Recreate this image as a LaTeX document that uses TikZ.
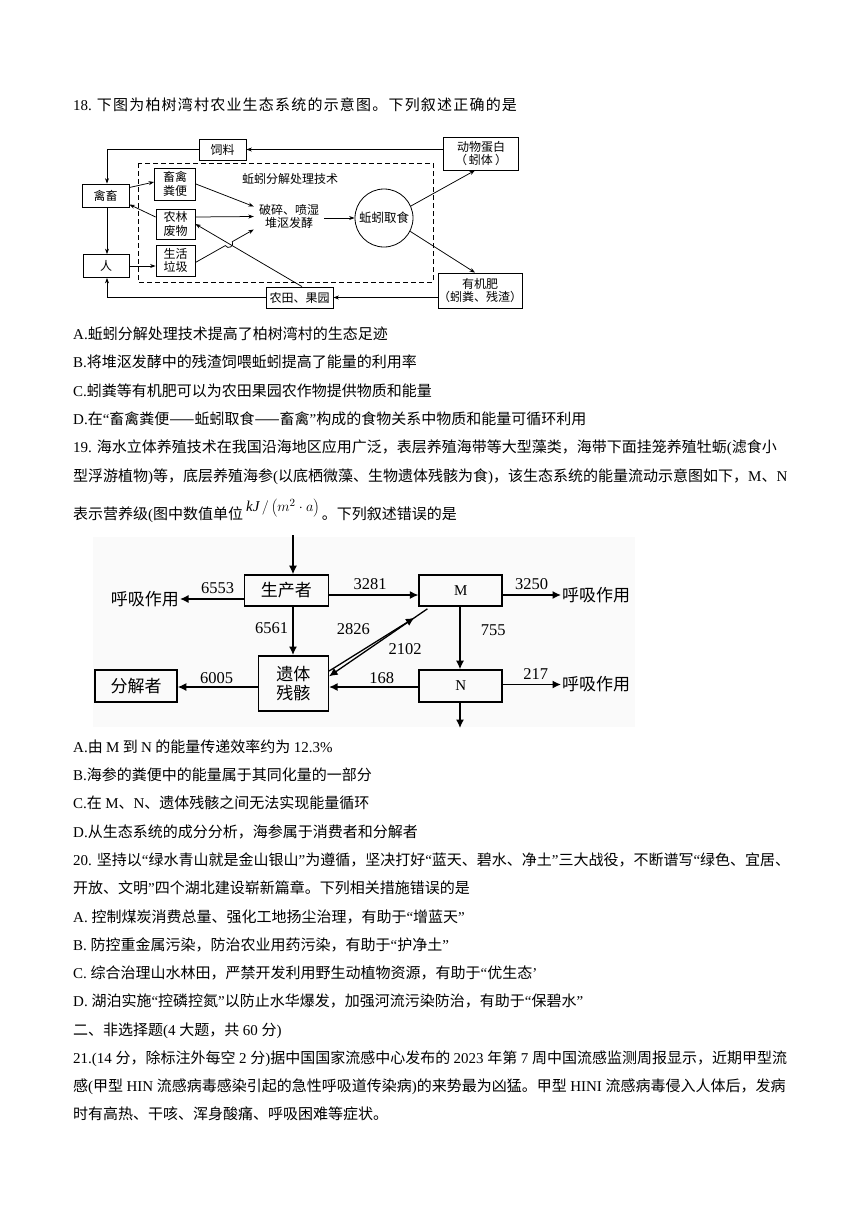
\documentclass[tikz,border=0pt]{standalone}
\usepackage{fontspec}
\setmainfont{Liberation Serif}
\newfontfamily\cjk{Noto Sans CJK SC}
\usetikzlibrary{arrows.meta,calc}
\newcommand\tm[1]{{\rmfamily #1}}

\begin{document}
\begin{tikzpicture}[x=1pt,y=-1pt,
  txt/.style={anchor=base west,inner sep=0pt,font=\cjk\fontsize{15}{18}\selectfont},
  boxa/.style={draw,line width=0.8pt,inner sep=0pt,align=center,font=\cjk\fontsize{12}{13.5}\selectfont},
  boxb/.style={draw,line width=1.6pt,inner sep=0pt,align=center,font=\cjk\fontsize{17}{19.5}\selectfont},
  lbla/.style={inner sep=0pt,align=center,font=\cjk\fontsize{12}{13.5}\selectfont},
  lblb/.style={inner sep=1pt,font=\cjk\fontsize{17}{20}\selectfont},
  num/.style={inner sep=0pt,font=\rmfamily\fontsize{16.5}{16.5}\selectfont},
  arra/.style={-{Stealth[length=5.5pt,width=4pt]},line width=0.75pt},
  arrb/.style={-{Latex[length=8.5pt,width=8pt]},line width=1.3pt}]
\useasboundingbox[fill=white] (0,0) rectangle (860,1216);

% question 18
\node[txt,font=\cjk\fontsize{15}{18}\selectfont\addfontfeature{LetterSpace=8}] (q18) at (73,110.5) {\tm{18. }下图为柏树湾村农业生态系统的示意图。下列叙述正确的是};

% agricultural ecosystem
\node[boxa,minimum width=47pt,minimum height=21pt] (sl) at (222.5,149.5) {饲料};
\node[boxa,minimum width=75pt,minimum height=33pt] (dw) at (481,153.5) {动物蛋白\\（\,蚓体\,）};
\draw[line width=0.8pt,dash pattern=on 5pt off 3pt] (138,163) rectangle (433,282);
\node[lbla] (jsl) at (290,179) {蚯蚓分解处理技术};
\node[boxa,minimum width=47pt,minimum height=23pt] (qc) at (105.5,195.5) {禽畜};
\node[boxa,minimum width=41pt,minimum height=32pt] (fb) at (175,184) {畜禽\\粪便};
\node[boxa,minimum width=39pt,minimum height=30pt] (nl) at (175.5,224) {农林\\废物};
\node[boxa,minimum width=39pt,minimum height=31pt] (lj) at (175.5,260.5) {生活\\垃圾};
\node[boxa,minimum width=46pt,minimum height=23pt] (ren) at (106,266) {人};
\node[lbla,inner sep=5pt] (ps) at (289,216.5) {破碎、喷湿\\堆沤发酵};
\node[boxa,circle,minimum size=58pt,font=\cjk\fontsize{12.5}{14}\selectfont] (qs) at (384,218) {蚯蚓取食};
\node[boxa,minimum width=81pt,minimum height=35pt] (yj) at (480,290.5) {有机肥\\（蚓粪、残渣）};
\node[boxa,minimum width=67pt,minimum height=21pt] (nt) at (299.5,297.5) {农田、果园};

\draw[arra] (dw.west|-sl.east) -- (sl.east);
\draw[arra] (sl.west) -| ([xshift=1.5pt]qc.north);
\draw[arra] ([xshift=1.5pt]qc.south) -- ([xshift=1pt]ren.north);
\draw[arra] ([yshift=8pt]qc.east) -- ([yshift=2pt]fb.west);
\draw[arra] ([yshift=7pt]nl.west) -- ([yshift=-9pt]qc.east);
\draw[arra] (ren.east) -- (lj.west|-ren.east);
\draw[arra] (fb.east) -- ([yshift=10pt]ps.west);
\draw[arra] ([yshift=7pt]nl.east) -- (ps.west);
\coordinate (ns) at ([xshift=2.5pt]nt.north);
\draw[arra] (ns) -- (nl.east);
% hop over the line from the fields
\coordinate (hs) at ([yshift=-2pt]lj.east);
\coordinate (he) at ([yshift=-13pt]ps.west);
\coordinate (hx) at (intersection of hs--he and ns--nl.east);
\coordinate (ha) at ($(hx)!4pt!(hs)$);
\coordinate (hb) at ($(hx)!4pt!(he)$);
\coordinate (hc) at ($(ha)!5pt!-90:(hx)$);
\coordinate (hd) at ($(hb)!5pt!90:(hx)$);
\draw[arra] (hs) -- (ha) .. controls (hc) and (hd) .. (hb) -- (he);
\draw[arra] (ps.east|-qs.west) -- (qs.west);
\draw[arra] (qs.24) -- ([xshift=-6pt]dw.south);
\draw[arra] (qs.-27) -- ([xshift=-5pt]yj.north);
\draw[arra] (yj.west|-nt.east) -- (nt.east);
\draw[arra] (nt.west) -| ([xshift=1pt]ren.south);

\node[txt] (q18a) at (73,339.5) {\tm{A.}蚯蚓分解处理技术提高了柏树湾村的生态足迹};
\node[txt] (q18b) at (73,367.5) {\tm{B.}将堆沤发酵中的残渣饲喂蚯蚓提高了能量的利用率};
\node[txt] (q18c) at (73,396.5) {\tm{C.}蚓粪等有机肥可以为农田果园农作物提供物质和能量};
\node[txt] (q18d) at (73,424.5) {\tm{D.}在\tm{“}畜禽粪便——蚯蚓取食——畜禽\tm{”}构成的食物关系中物质和能量可循环利用};

% question 19
\node[txt] (q19) at (73,452.5) {\tm{19. }海水立体养殖技术在我国沿海地区应用广泛，表层养殖海带等大型藻类，海带下面挂笼养殖牡蛎\tm{(}滤食小};
\node[txt] (q19l2) at (73,481.5) {型浮游植物\tm{)}等，底层养殖海参\tm{(}以底栖微藻、生物遗体残骸为食\tm{)}，该生态系统的能量流动示意图如下，\tm{M}、\tm{N}};
\node[txt] (q19l3) at (73,519.5) {表示营养级\tm{(}图中数值单位};
\node[anchor=west,inner sep=0pt,font=\fontsize{15}{18}\selectfont] (unit) at (246,508) {$\mathit{kJ}\,/\left(m^{2}\cdot a\right)$};
\node[txt] (q19l4) at ([xshift=2pt]unit.east|-q19l3.base) {。下列叙述错误的是};

% energy flow
\fill[gray!4] (93,537) rectangle (635,727);
\coordinate (src) at (293,535);
\node[boxb,minimum width=84pt,minimum height=31pt] (scz) at (286.3,590.5) {生产者};
\node[boxb,minimum width=83pt,minimum height=31pt,font=\rmfamily\fontsize{15}{15}\selectfont] (mm) at (460.7,590.5) {M};
\node[boxb,minimum width=82pt,minimum height=32pt] (fjz) at (136,686) {分解者};
\node[boxb,minimum width=70pt,minimum height=55pt] (yt) at (293.3,683.3) {遗体\\残骸};
\node[boxb,minimum width=83pt,minimum height=32pt,font=\rmfamily\fontsize{15}{15}\selectfont] (nn) at (460.7,686) {N};
\node[lblb,anchor=east] (hxa) at (180,599) {呼吸作用};
\node[lblb,anchor=west] (hxb) at (561,595) {呼吸作用};
\node[lblb,anchor=west] (hxc) at (561,684.5) {呼吸作用};
\coordinate (sink) at (460,728);

\draw[arrb] (src) -- (src|-scz.north);
\draw[arrb] (scz.west|-hxa.east) -- (hxa.east);
\draw[arrb] (scz.east|-hxb.west) -- (mm.west|-hxb.west);
\draw[arrb] (mm.east|-hxb.west) -- (hxb.west);
\draw[arrb] (src|-scz.south) -- (src|-yt.north);
\draw[arrb] ([yshift=-16pt]yt.north east) -- ([xshift=-4pt,yshift=-11pt]mm.south west);
\draw[arrb] ([xshift=9pt,yshift=-2pt]mm.south west) -- ([yshift=7pt]yt.south east|-yt.east);
\draw[arrb] (sink|-mm.south) -- (sink|-nn.north);
\draw[arrb] ([yshift=-1pt]nn.west) -- (yt.east|-0,687);
\draw[arrb] (yt.west|-0,687) -- (fjz.east|-0,687);
\draw[arrb] (nn.east|-hxc.west) -- (hxc.west);
\draw[arrb] (sink|-nn.south) -- (sink);

\node[num] (n6553) at (217.7,588.3) {6553};
\node[num] (n3281) at (370,584.3) {3281};
\node[num] (n3250) at (531.7,584.3) {3250};
\node[num] (n6561) at (271.7,627.7) {6561};
\node[num] (n2826) at (353.3,629) {2826};
\node[num] (n2102) at (405,649) {2102};
\node[num] (n755) at (493.3,630) {755};
\node[num] (n6005) at (216.7,677.7) {6005};
\node[num] (n168) at (381.7,677.7) {168};
\node[num] (n217) at (535.7,674.3) {217};

\node[txt] (q19a) at (73,752.5) {\tm{A.}由 \tm{M} 到 \tm{N} 的能量传递效率约为 \tm{12.3\%}};
\node[txt] (q19b) at (73,780.5) {\tm{B.}海参的粪便中的能量属于其同化量的一部分};
\node[txt] (q19c) at (73,808.5) {\tm{C.}在 \tm{M}、\tm{N}、遗体残骸之间无法实现能量循环};
\node[txt] (q19d) at (73,837.5) {\tm{D.}从生态系统的成分分析，海参属于消费者和分解者};

% question 20
\node[txt] (q20) at (73,865.5) {\tm{20. }坚持以\tm{“}绿水青山就是金山银山\tm{”}为遵循，坚决打好\tm{“}蓝天、碧水、净土\tm{”}三大战役，不断谱写\tm{“}绿色、宜居、};
\node[txt] (q20l2) at (73,893.5) {开放、文明\tm{”}四个湖北建设崭新篇章。下列相关措施错误的是};
\node[txt] (q20a) at (73,922.5) {\tm{A. }控制煤炭消费总量、强化工地扬尘治理，有助于\tm{“}增蓝天\tm{”}};
\node[txt] (q20b) at (73,950.5) {\tm{B. }防控重金属污染，防治农业用药污染，有助于\tm{“}护净土\tm{”}};
\node[txt] (q20c) at (73,978.5) {\tm{C. }综合治理山水林田，严禁开发利用野生动植物资源，有助于\tm{“}优生态\tm{’}};
\node[txt] (q20d) at (73,1006.5) {\tm{D. }湖泊实施\tm{“}控磷控氮\tm{”}以防止水华爆发，加强河流污染防治，有助于\tm{“}保碧水\tm{”}};

% part two
\node[txt] (p2) at (73,1035.5) {二、非选择题\tm{(4 }大题，共 \tm{60 }分\tm{)}};
\node[txt] (q21) at (73,1063.5) {\tm{21.(14 }分，除标注外每空 \tm{2 }分\tm{)}据中国国家流感中心发布的 \tm{2023 }年第 \tm{7 }周中国流感监测周报显示，近期甲型流};
\node[txt] (q21l2) at (73,1091.5) {感\tm{(}甲型 \tm{HIN }流感病毒感染引起的急性呼吸道传染病\tm{)}的来势最为凶猛。甲型 \tm{HINI }流感病毒侵入人体后，发病};
\node[txt] (q21l3) at (73,1119.5) {时有高热、干咳、浑身酸痛、呼吸困难等症状。};

\end{tikzpicture}
\end{document}
